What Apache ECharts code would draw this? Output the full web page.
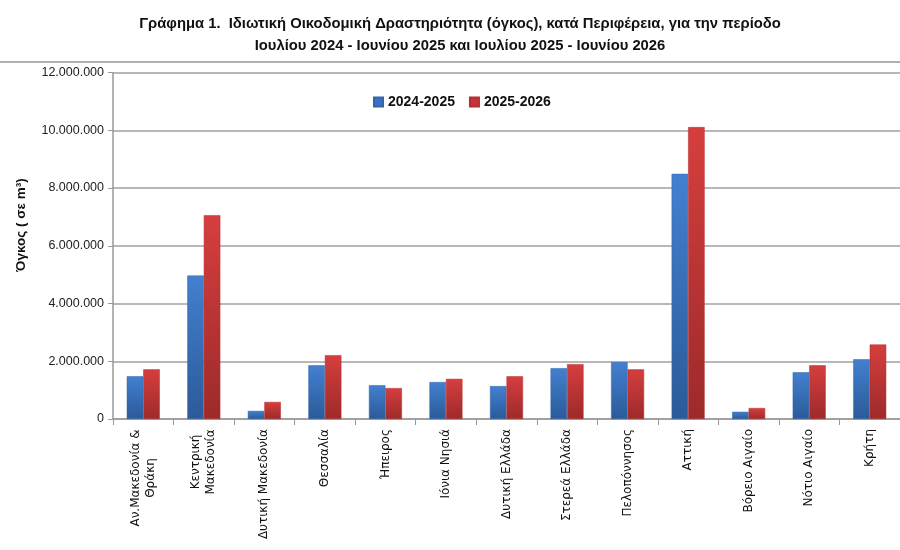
<!DOCTYPE html>
<html>
<head>
<meta charset="utf-8">
<script src="https://cdn.jsdelivr.net/npm/echarts@6/dist/echarts.min.js"></script>
<style>
  html, body { margin: 0; padding: 0; background: #fff; }
  #chart { width: 900px; height: 550px; }
</style>
</head>
<body>
<div id="chart"></div>
<script>
// regions (x axis)
var regions = [
    "Αν.Μακεδονία &\nΘράκη", "Κεντρική\nΜακεδονία", "Δυτική Μακεδονία", "Θεσσαλία",
    "Ήπειρος", "Ιόνια Νησιά", "Δυτική Ελλάδα", "Στερεά Ελλάδα", "Πελοπόννησος",
    "Αττική", "Βόρειο Αιγαίο", "Νότιο Αιγαίο", "Κρήτη"
];
// volume in m3
var vol2425 = [1480000, 4970000, 280000, 1860000, 1170000, 1280000, 1140000, 1760000, 1970000, 8490000, 250000, 1620000, 2070000];
var vol2526 = [1720000, 7060000, 590000, 2210000, 1070000, 1390000, 1480000, 1900000, 1720000, 10110000, 380000, 1860000, 2580000];
var seriesNames = ["2024-2025", "2025-2026"];
var titleLines = [
    "Γράφημα 1.  Ιδιωτική Οικοδομική Δραστηριότητα (όγκος), κατά Περιφέρεια, για την περίοδο",
    "Ιουλίου 2024 - Ιουνίου 2025 και Ιουλίου 2025 - Ιουνίου 2026"
];
var yName = "Όγκος ( σε m³)";

var LABEL_FONT = "12px DejaVu Sans";

function dots(v) {
    return String(v).replace(/\B(?=(\d{3})+(?!\d))/g, ".");
}

function grad(top, bottom) {
    return new echarts.graphic.LinearGradient(0, 0, 0, 1, [
        { offset: 0, color: top },
        { offset: 1, color: bottom }
    ]);
}

// two-line labels: centre the lines on each other like the original
var measureCtx = document.createElement("canvas").getContext("2d");
measureCtx.font = LABEL_FONT;
var richStyles = {};
function labelFormatter(value, idx) {
    var lines = value.split("\n");
    if (lines.length < 2) {
        return value;
    }
    var w = 0;
    for (var i in lines) {
        w = Math.max(w, Math.ceil(measureCtx.measureText(lines[i]).width));
    }
    var key = "c" + idx;
    return lines.map(function (l) { return "{" + key + "|" + l + "}"; }).join("\n");
}

var chart = echarts.init(document.getElementById("chart"));

// build a rich style per multi-line label
for (var k in regions) {
    var parts = regions[k].split("\n");
    if (parts.length > 1) {
        var mw = 0;
        for (var p in parts) {
            mw = Math.max(mw, Math.ceil(measureCtx.measureText(parts[p]).width));
        }
        richStyles["c" + k] = { width: mw, align: "center", fontSize: 12, lineHeight: 15, color: "#111", fontFamily: "DejaVu Sans, Verdana, sans-serif" };
    }
}

var option = {
    animation: false,
    textStyle: { fontFamily: "Liberation Sans, Arial, sans-serif" },
    title: {
        text: titleLines.join("\n"),
        left: 455,
        textAlign: "center",
        top: 8,
        textStyle: { fontSize: 14.8, fontWeight: "bold", color: "#111", lineHeight: 22, fontFamily: "Liberation Sans, Arial, sans-serif" }
    },
    legend: {
        top: 90,
        left: 368,
        itemWidth: 9,
        itemHeight: 9,
        itemGap: 14,
        icon: "rect",
        textStyle: { fontSize: 14, fontWeight: "bold", color: "#111" }
    },
    graphic: [
        {
            type: "line",
            shape: { x1: 0, y1: 62, x2: 900, y2: 62 },
            style: { stroke: "#b0b0b0", lineWidth: 2 }
        },
        {
            type: "text",
            x: 21,
            y: 225,
            rotation: Math.PI / 2,
            style: {
                text: yName,
                align: "center",
                verticalAlign: "middle",
                font: "bold 13.5px Liberation Sans, Arial, sans-serif",
                fill: "#111"
            }
        }
    ],
    grid: { left: 113, top: 72.5, width: 793, height: 346.5, containLabel: false },
    xAxis: {
        type: "category",
        data: regions,
        axisLine: { lineStyle: { color: "#999", width: 1.5 } },
        axisTick: { show: true, length: 6, lineStyle: { color: "#999" } },
        axisLabel: {
            rotate: 90,
            interval: 0,
            margin: 10,
            fontSize: 12,
            lineHeight: 15,
            color: "#111",
            fontFamily: "DejaVu Sans, Verdana, sans-serif",
            formatter: labelFormatter,
            rich: richStyles
        }
    },
    yAxis: {
        type: "value",
        min: 0,
        max: 12000000,
        interval: 2000000,
        axisLine: { show: true, lineStyle: { color: "#999", width: 1.5 } },
        axisTick: { show: true, length: 5, lineStyle: { color: "#999" } },
        axisLabel: {
            fontSize: 12.5,
            color: "#222",
            margin: 9,
            formatter: function (v) { return dots(v); }
        },
        splitLine: { lineStyle: { color: "#a0a0a0", width: 1.5 } }
    },
    series: [
        {
            name: seriesNames[0],
            type: "bar",
            data: vol2425,
            barWidth: 16.5,
            barGap: "0%",
            itemStyle: { color: grad("#4380d0", "#2b5a98"), borderColor: "#2f66ad", borderWidth: 0.5 }
        },
        {
            name: seriesNames[1],
            type: "bar",
            data: vol2526,
            barWidth: 16.5,
            itemStyle: { color: grad("#d63e3e", "#9d2a2a"), borderColor: "#b52f2f", borderWidth: 0.5 }
        }
    ]
};
option.legend.data = [
    { name: seriesNames[0], itemStyle: { color: "#3a72bf" } },
    { name: seriesNames[1], itemStyle: { color: "#c23636" } }
];
chart.setOption(option);
</script>
</body>
</html>
